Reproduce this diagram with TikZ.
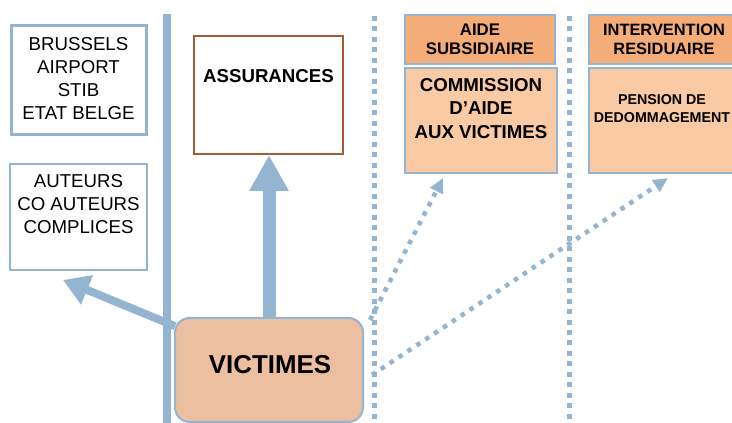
\documentclass[tikz,border=0pt]{standalone}
\usepackage{fontspec}
\setmainfont{Liberation Sans}
\usetikzlibrary{arrows.meta}
\definecolor{bl}{RGB}{148,181,210}
\definecolor{orD}{RGB}{244,173,121}
\definecolor{orL}{RGB}{249,202,163}
\definecolor{vic}{RGB}{237,191,161}
\definecolor{brn}{RGB}{164,92,52}
\newcommand\pxu{0.75pt}
\tikzset{
  box/.style={rectangle, draw=bl, inner sep=0pt, outer sep=0pt},
  lbl/.style={inner sep=0pt, outer sep=0pt, align=center, text=black},
  reg/.style={font=\fontsize{14}{17.3}\selectfont},
  dotline/.style={draw=bl, line width=3.75pt, dash pattern=on 3.75pt off 4.1pt},
  dotarrow/.style={draw=bl, line width=3.4pt, dash pattern=on 3.4pt off 4.6pt,
    -{Triangle[length=11pt,width=10pt]}}
}
\begin{document}
\begin{tikzpicture}[x=0.75pt,y=-0.75pt]
\useasboundingbox (0,0) rectangle (732,423);
\fill[white] (0,0) rectangle (732,423);
\clip (0,0) rectangle (732,423);

% separators
\coordinate (s1t) at (167,14); \coordinate (s1b) at (167,425);
\coordinate (s2t) at (374,16); \coordinate (s2b) at (374,425);
\coordinate (s3t) at (569,16); \coordinate (s3b) at (569,425);
\draw[bl, line width=6pt] (s1t) -- (s1b);
\draw[dotline] (s2t) -- (s2b);
\draw[dotline] (s3t) -- (s3b);

% left boxes
\node[box, line width=2.25pt, minimum width=135*\pxu, minimum height=109*\pxu] (brussels) at (78.5,80.5) {};
\node[lbl, reg] (brt) at (78.5,78.5) {BRUSSELS\\AIRPORT\\STIB\\ETAT BELGE};
\node[box, line width=1.1pt, minimum width=137*\pxu, minimum height=106*\pxu] (auteurs) at (78.5,217) {};
\node[lbl, reg] (aut) at (78.5,204) {AUTEURS\\CO AUTEURS\\COMPLICES};

% assurances
\node[box, draw=brn, line width=1.2pt, minimum width=149*\pxu, minimum height=118*\pxu] (assur) at (268.5,95) {};
\node[lbl, font=\bfseries\fontsize{14}{17}\selectfont] (ast) at (268.5,76) {ASSURANCES};

% victimes
\node[box, line width=1.5pt, fill=vic, rounded corners=11pt, minimum width=188*\pxu, minimum height=104*\pxu] (victimes) at (269,370) {};
\node[lbl, font=\bfseries\fontsize{19.4}{22}\selectfont] (vt) at (270,365) {VICTIMES};

% aide subsidiaire
\node[box, line width=1.5pt, fill=orD, minimum width=150*\pxu, minimum height=49*\pxu] (aide) at (480,39.5) {};
\node[lbl, font=\bfseries\fontsize{12.6}{14.3}\selectfont] (aidet) at (480,39.5) {AIDE\\SUBSIDIAIRE};
\node[box, line width=1.5pt, fill=orL, minimum width=152*\pxu, minimum height=105*\pxu] (comm) at (481,120.5) {};
\node[lbl, font=\bfseries\fontsize{14}{17.6}\selectfont] (commt) at (481,108.5) {COMMISSION\\D’AIDE\\AUX VICTIMES};

% intervention residuaire
\node[box, line width=1.5pt, fill=orD, minimum width=150*\pxu, minimum height=49*\pxu] (interv) at (664,39.5) {};
\node[lbl, font=\bfseries\fontsize{12.3}{14.3}\selectfont] (intt) at (664,39.5) {INTERVENTION\\RESIDUAIRE};
\node[box, line width=1.5pt, fill=orL, minimum width=152*\pxu, minimum height=105*\pxu] (pension) at (665,120.5) {};
\node[lbl, font=\bfseries\fontsize{10.7}{13.5}\selectfont] (pent) at (662,109) {PENSION DE\\DEDOMMAGEMENT};

% connectors
\draw[bl, line width=9.75pt, -{Triangle[length=27pt,width=27.75pt]}]
  (victimes.north) -- ([yshift=-0.75pt]victimes.north |- assur.south);
\coordinate (autip) at (63,280);
\draw[bl, line width=6pt, -{Triangle[length=19.5pt,width=22.5pt]}]
  (victimes.155) -- (autip);
\coordinate (ctip) at (443,178);
\coordinate (ptip) at (668,178);
\draw[dotarrow] ([shift={(7,2)}]victimes.north east) -- (ctip);
\draw[dotarrow] ([shift={(9,5)}]victimes.east) -- (ptip);
\end{tikzpicture}
\end{document}
